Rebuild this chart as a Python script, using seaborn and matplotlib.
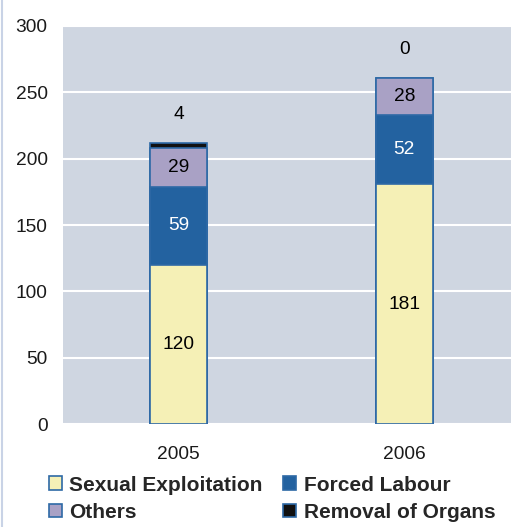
import pandas as pd
import matplotlib.pyplot as plt
import seaborn as sns
from matplotlib.patches import Patch
from matplotlib.lines import Line2D

# ------------------------------------
# DATA
# ------------------------------------

years = ["2005", "2006"]
sexual_exploitation = [120, 181]
forced_labour = [59, 52]
others = [29, 28]
removal_of_organs = [4, 0]

series_names = ["Sexual Exploitation", "Forced Labour", "Others", "Removal of Organs"]
series_values = [sexual_exploitation, forced_labour, others, removal_of_organs]
colors = ["#F5F0B6", "#2362A0", "#A9A1C5", "#111111"]
label_colors = ["black", "white", "black", "black"]
edge = "#2E69A6"

df = pd.DataFrame({"year": years})
for name, vals in zip(series_names, series_values):
    df[name] = vals

# cumulative tops
cum = df[series_names].cumsum(axis=1)

# ------------------------------------
# PLOT
# ------------------------------------

sns.set_theme(style="white")
plt.rcParams["font.family"] = ["Liberation Sans", "DejaVu Sans"]

fs = 13.8

fig = plt.figure(figsize=(5.11, 5.27), dpi=100)
ax = fig.add_axes([0.123, 0.195, 0.877, 0.756])
ax.set_facecolor("#CFD6E1")

# draw from top layer down so lower layers overlay
for i in range(len(series_names) - 1, -1, -1):
    sns.barplot(
        x=df["year"], y=cum[series_names[i]], color=colors[i],
        width=0.252, edgecolor=edge, linewidth=1.2, saturation=1, ax=ax, zorder=3
    )

# segment labels
for j, yr in enumerate(years):
    bottom = 0
    for i, name in enumerate(series_names):
        v = df.loc[j, name]
        if i < 3:
            ax.text(j, bottom + v / 2, str(v), ha="center", va="center",
                    fontsize=fs, color=label_colors[i], zorder=5)
        else:
            ax.text(j, bottom + v + 21, str(v), ha="center", va="center",
                    fontsize=fs, color="black", zorder=5)
        bottom += v

ax.set_xlim(-0.512, 1.472)
ax.set_ylim(0, 300)
ax.set_yticks(range(0, 301, 50))
ax.yaxis.grid(True, color="white", linewidth=1.5, zorder=0)
ax.set_axisbelow(True)
for s in ax.spines.values():
    s.set_visible(False)
ax.set_xlabel("")
ax.set_ylabel("")
ax.tick_params(axis="both", length=0, labelsize=fs, colors="#1a1a1a")
ax.tick_params(axis="x", pad=16)
ax.tick_params(axis="y", pad=11)

# left border line
fig.add_artist(Line2D([0.004, 0.004], [0, 1], color="#C9D3E6", linewidth=1.5,
                      transform=fig.transFigure))

# legend
handles = [Patch(facecolor=c, edgecolor=edge, linewidth=1.2) for c in colors]
order = [0, 2, 1, 3]
fig.legend(
    [handles[k] for k in order], [series_names[k] for k in order],
    ncol=2, loc="lower left", bbox_to_anchor=(0.059, -0.026), frameon=False,
    prop={"weight": "bold", "size": 15}, handlelength=0.63, handleheight=0.63,
    handletextpad=0.34, columnspacing=1.0, labelspacing=0.4
)

plt.savefig("out.png", dpi=100)
plt.close()
